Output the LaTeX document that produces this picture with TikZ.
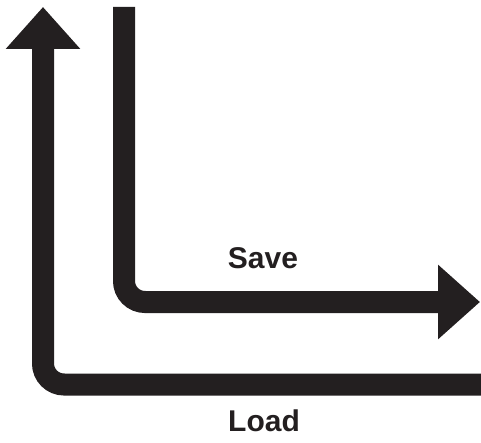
\documentclass[tikz,border=0pt]{standalone}
\usepackage{fontspec}
\setmainfont{Liberation Sans}
\usetikzlibrary{arrows.meta}
\definecolor{inkblack}{RGB}{35,31,32}
\begin{document}
\begin{tikzpicture}[x=1pt, y=-1pt, line width=22pt,
    bigarrow/.style={inkblack, rounded corners=21pt, -{Triangle[width=72pt, length=42pt]}},
    lbl/.style={inkblack, font=\fontsize{30}{32}\selectfont\bfseries}]
    \useasboundingbox (0,0) rectangle (481,443);

    % Load arrow (outer)
    \coordinate (L1) at (481,384.5);
    \coordinate (L2) at (43,384.5);
    \coordinate (L3) at (43,7);
    \draw[bigarrow] (L1) -- (L2) -- (L3);
    \node[lbl] (load) at (264,421) {Load};

    % Save arrow (inner)
    \coordinate (S1) at (124,7);
    \coordinate (S2) at (124,302);
    \coordinate (S3) at (480,302);
    \draw[bigarrow] (S1) -- (S2) -- (S3);
    \node[lbl] (save) at (263,258) {Save};
\end{tikzpicture}
\end{document}
